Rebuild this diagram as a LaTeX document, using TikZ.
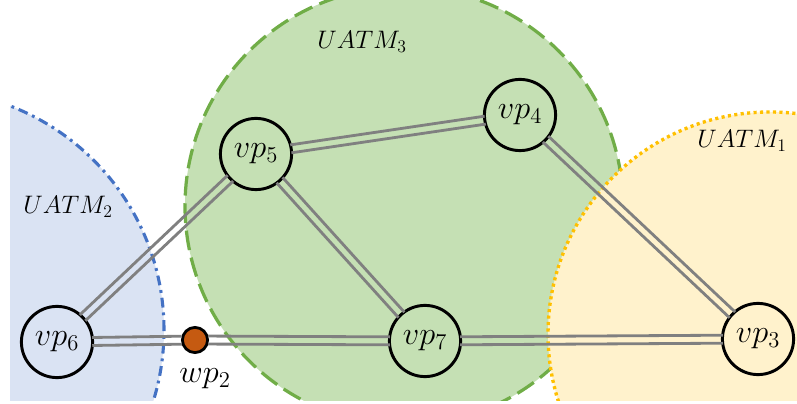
\documentclass[tikz,border=0pt]{standalone}
\usepackage{fix-cm}
\usetikzlibrary{calc}
\definecolor{zoneblue}{HTML}{DAE3F3}
\definecolor{zonebluedk}{HTML}{4472C4}
\definecolor{zonegreen}{HTML}{C5E0B4}
\definecolor{zonegreendk}{HTML}{70AD47}
\definecolor{zoneyellow}{HTML}{FFF2CC}
\definecolor{zoneyellowdk}{HTML}{FFC000}
\definecolor{wporange}{HTML}{C55A11}
\definecolor{railgray}{HTML}{808080}
\begin{document}
\begin{tikzpicture}[
    vp/.style={circle, draw, line width=2.1pt, minimum size=1.78cm, inner sep=0pt, font=\fontsize{23}{27}\selectfont},
    wp/.style={circle, draw, line width=2pt, fill=wporange, minimum size=0.63cm, inner sep=0pt},
    rail/.style={draw=railgray, line width=2pt},
    zonelbl/.style={font=\fontsize{18}{21}\selectfont}]
\useasboundingbox (0,0) rectangle (19.925,10.075);
% coverage zones
\begin{scope}
\clip (0.25,0.075) rectangle (19.925,10.075);
\draw[fill=zoneblue, draw=zonebluedk, line width=2.2pt, dash pattern=on 7pt off 3.5pt on 2pt off 3.5pt] (-1.9,1.825) circle (6);
\draw[fill=zonegreen, draw=zonegreendk, line width=2.3pt, dash pattern=on 14pt off 5.5pt] (10.1,4.925) circle (5.475);
\draw[fill=zoneyellow, draw=zoneyellowdk, line width=2.4pt, dash pattern=on 2.2pt off 2.4pt] (19.25,1.725) circle (5.55);
\end{scope}
\node[zonelbl] (uatm3) at (9.05,9.025) {$UATM_3$};
\node[zonelbl] (uatm2) at (1.7,4.9) {$UATM_2$};
\node[zonelbl] (uatm1) at (18.55,6.55) {$UATM_1$};
% way points
\node[vp] (vp5) at (6.4,6.225) {$vp_5$};
\node[vp] (vp4) at (13,7.2) {$vp_4$};
\node[vp] (vp6) at (1.425,1.525) {$vp_6$};
\node[vp] (vp7) at (10.625,1.55) {$vp_7$};
\node[vp] (vp3) at (18.95,1.6) {$vp_3$};
\node[wp] (wp2) at (4.875,1.575) {};
\node[font=\fontsize{23}{27}\selectfont] (wp2lbl) at (5.125,0.6) {$wp_2$};
% links
\foreach \a/\b/\sa/\sb in {vp5/vp4/.88/.88, vp5/vp6/.88/.88, vp5/vp7/.88/.88, vp4/vp3/.88/.88, vp7/vp3/.88/.88, vp6/wp2/.88/.33, wp2/vp7/.33/.88}
  \foreach \s in {1,-1}
    \draw[rail, shorten <=\sa cm, shorten >=\sb cm] ($(\a)!\s*0.1cm!90:(\b)$) -- ($(\b)!\s*0.1cm!-90:(\a)$);
\end{tikzpicture}
\end{document}
